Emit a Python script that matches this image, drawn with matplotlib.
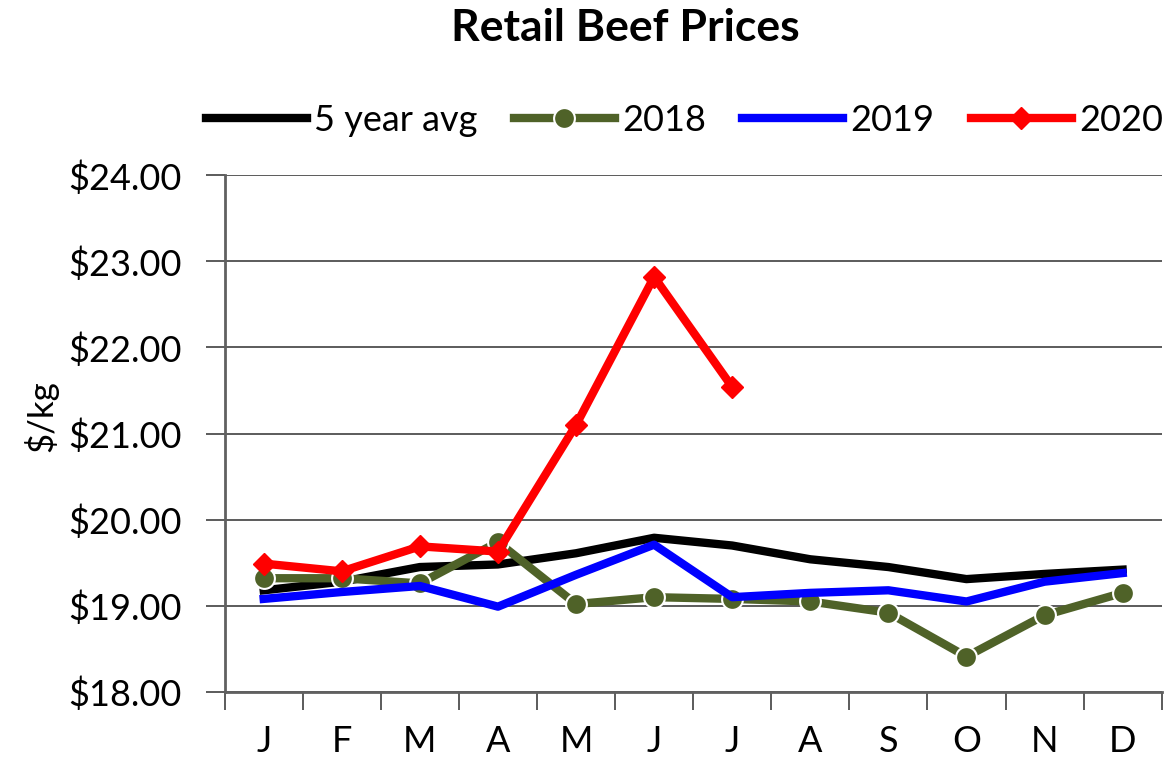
import matplotlib.pyplot as plt
import numpy as np

months = ["J", "F", "M", "A", "M", "J", "J", "A", "S", "O", "N", "D"]
avg_5yr = [19.18, 19.28, 19.45, 19.48, 19.61, 19.79, 19.70, 19.54, 19.45, 19.31, 19.37, 19.42]
y2018 = [19.32, 19.32, 19.26, 19.74, 19.02, 19.10, 19.08, 19.05, 18.92, 18.41, 18.89, 19.15]
y2019 = [19.08, 19.16, 19.23, 18.99, 19.36, 19.71, 19.10, 19.15, 19.18, 19.05, 19.28, 19.38]
y2020 = [19.49, 19.40, 19.69, 19.63, 21.10, 22.82, 21.54]

plt.rcParams["font.family"] = ["Lato", "DejaVu Sans"]

fig = plt.figure(figsize=(11.64, 7.62), dpi=100)
ax = fig.add_axes([0.193, 0.092, 0.805, 0.678])

x = np.arange(len(months))
ax.plot(x, avg_5yr, color="black", lw=6, label="5 year avg", zorder=3)
ax.plot(x, y2018, color="#4f6228", lw=6, marker="o", markersize=15,
        markeredgecolor="white", markeredgewidth=1.5, label="2018", zorder=4)
ax.plot(x, y2019, color="#0000ff", lw=6, label="2019", zorder=5)
ax.plot(np.arange(len(y2020)), y2020, color="#ff0000", lw=6, marker="D", markersize=11,
        label="2020", zorder=6)

ax.set_xlim(-0.5, 11.5)
ax.set_ylim(18, 24)
ax.set_yticks(np.arange(18, 25, 1))
ax.set_yticklabels([f"${v:.2f}" for v in range(18, 25)], fontsize=26)
ax.set_xticks(x)
ax.set_xticklabels(months, fontsize=26)
ax.tick_params(axis="x", which="major", length=0, pad=24)
ax.set_xticks(np.arange(-0.5, 12, 1), minor=True)
ax.tick_params(axis="x", which="minor", length=13, width=1.2, color="#404040", direction="out")
ax.tick_params(axis="y", length=14, width=1.2, color="#404040", pad=17)
ax.grid(axis="y", color="#404040", lw=1.2)
ax.set_axisbelow(True)

for side in ["top", "right"]:
    ax.spines[side].set_visible(False)
ax.spines["left"].set_color("#606060")
ax.spines["left"].set_linewidth(2)
ax.spines["bottom"].set_color("#606060")
ax.spines["bottom"].set_linewidth(2)

ax.set_ylabel("$/kg", fontsize=25)
ax.yaxis.set_label_coords(-0.177, 0.534)

fig.suptitle("Retail Beef Prices", fontsize=32, fontweight="bold", x=0.537, y=0.99)
fig.legend(loc="center", bbox_to_anchor=(0.588, 0.842), ncol=4, frameon=False,
           fontsize=26, handlelength=2.8, columnspacing=1.0, handletextpad=0.2)

fig.savefig("out.png", dpi=100)
